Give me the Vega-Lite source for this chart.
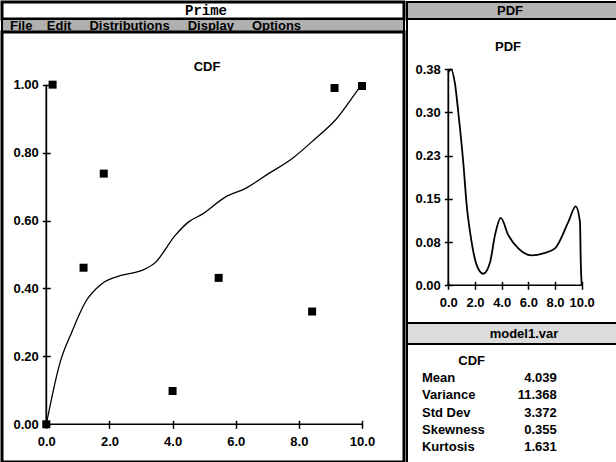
{
  "$schema": "https://vega.github.io/schema/vega-lite/v6.json",
  "padding": 0,
  "background": "white",
  "spacing": 0,
  "bounds": "full",
  "config": {
    "font": "Liberation Sans",
    "view": {"stroke": "black", "strokeWidth": 2, "fill": "white"},
    "axis": {
      "labelFont": "Liberation Sans", "labelFontWeight": "bold", "labelFontSize": 13, "labelColor": "black",
      "tickColor": "black", "tickWidth": 1.5, "tickSize": 8, "grid": false, "domain": false, "title": null,
      "labelFlush": false, "labelOverlap": false, "labelBound": false
    },
    "title": {"font": "Liberation Sans", "fontWeight": "bold", "fontSize": 13, "color": "black"},
    "concat": {"spacing": 0}
  },
  "datasets": {
    "cdf": [
      {"x": 0, "y": 0}, {"x": 0.44, "y": 0.183}, {"x": 0.81, "y": 0.272}, {"x": 1.24, "y": 0.36},
      {"x": 1.76, "y": 0.414}, {"x": 2.4, "y": 0.439}, {"x": 3.03, "y": 0.453}, {"x": 3.45, "y": 0.476},
      {"x": 4.09, "y": 0.557}, {"x": 4.51, "y": 0.596}, {"x": 4.93, "y": 0.618}, {"x": 5.67, "y": 0.669},
      {"x": 6.3, "y": 0.694}, {"x": 7.04, "y": 0.738}, {"x": 7.78, "y": 0.782}, {"x": 8.52, "y": 0.841},
      {"x": 9.15, "y": 0.895}, {"x": 9.9, "y": 0.988}, {"x": 10, "y": 1.0}
    ],
    "pts": [
      {"x": 0, "y": 0}, {"x": 0.2, "y": 1.0}, {"x": 1.18, "y": 0.461}, {"x": 1.82, "y": 0.738},
      {"x": 4.0, "y": 0.098}, {"x": 5.46, "y": 0.431}, {"x": 8.42, "y": 0.332}, {"x": 9.13, "y": 0.99},
      {"x": 10.0, "y": 0.996}
    ],
    "pdf": [
      {"x": 0, "y": 0.37}, {"x": 0.2, "y": 0.375}, {"x": 0.5, "y": 0.35}, {"x": 0.75, "y": 0.3},
      {"x": 1.12, "y": 0.214}, {"x": 1.38, "y": 0.139}, {"x": 1.7, "y": 0.082}, {"x": 2.13, "y": 0.035},
      {"x": 2.62, "y": 0.02}, {"x": 3.13, "y": 0.04}, {"x": 3.5, "y": 0.087}, {"x": 3.93, "y": 0.117},
      {"x": 4.5, "y": 0.087}, {"x": 5.25, "y": 0.064}, {"x": 6.25, "y": 0.052}, {"x": 7.2, "y": 0.056},
      {"x": 8.0, "y": 0.064}, {"x": 9.0, "y": 0.11}, {"x": 9.55, "y": 0.137}, {"x": 9.87, "y": 0.11},
      {"x": 9.93, "y": 0.04}, {"x": 10, "y": 0}
    ],
    "stats": [
      {"stat": "Mean", "value": "4.039"},
      {"stat": "Variance", "value": "11.368"},
      {"stat": "Std Dev", "value": "3.372"},
      {"stat": "Skewness", "value": "0.355"},
      {"stat": "Kurtosis", "value": "1.631"}
    ]
  },
  "hconcat": [
    {
      "spacing": 0,
      "bounds": "flush",
      "vconcat": [
        {
          "width": 402, "height": 17,
          "view": {"fill": "white", "stroke": "black", "strokeWidth": 3},
          "data": {"values": [{"t": "Prime"}]},
          "mark": {"type": "text", "font": "Liberation Mono", "fontWeight": "bold", "fontSize": 14, "color": "black", "dx": 3},
          "encoding": {"text": {"field": "t"}}
        },
        {
          "width": 402, "height": 13,
          "view": {"fill": "#b0b0b0", "stroke": "black", "strokeWidth": 2},
          "data": {"values": [{"t": "File\u00a0\u00a0\u00a0\u00a0Edit\u00a0\u00a0\u00a0\u00a0\u00a0Distributions\u00a0\u00a0\u00a0\u00a0\u00a0Display\u00a0\u00a0\u00a0\u00a0\u00a0Options"}]},
          "mark": {"type": "text", "align": "left", "fontWeight": "bold", "fontSize": 13, "color": "black", "dx": 8},
          "encoding": {
            "x": {"datum": 0, "type": "quantitative", "scale": {"domain": [0, 1]}, "axis": null},
            "text": {"field": "t"}
          }
        },
        {
          "width": 402, "height": 430,
          "view": {"fill": "white", "stroke": "black", "strokeWidth": 3},
          "title": {"text": "CDF", "offset": -42, "dx": 4},
          "layer": [
            {
              "data": {"name": "cdf"},
              "mark": {"type": "line", "interpolate": "monotone", "color": "black", "strokeWidth": 1.3},
              "encoding": {
                "x": {"field": "x", "type": "quantitative",
                      "scale": {"domain": [-1.403, 11.33], "nice": false, "zero": false},
                      "axis": {"values": [0, 2, 4, 6, 8, 10], "format": ".1f", "offset": -41.7, "labelPadding": 7}},
                "y": {"field": "y", "type": "quantitative",
                      "scale": {"domain": [-0.111, 1.155], "nice": false, "zero": false},
                      "axis": {"values": [0, 0.2, 0.4, 0.6, 0.8, 1], "format": ".2f", "offset": -48.3, "labelPadding": 4}}
              }
            },
            {
              "data": {"values": [{}]},
              "mark": {"type": "rule", "color": "black", "strokeWidth": 1.5},
              "encoding": {"x": {"datum": 0}, "x2": {"datum": 10}, "y": {"datum": 0}}
            },
            {
              "data": {"values": [{}]},
              "mark": {"type": "rule", "color": "black", "strokeWidth": 1.8},
              "encoding": {"x": {"datum": 0}, "y": {"datum": 0}, "y2": {"datum": 1}}
            },
            {
              "data": {"name": "pts"},
              "mark": {"type": "point", "shape": "square", "filled": true, "color": "black", "size": 64, "opacity": 1},
              "encoding": {
                "x": {"field": "x", "type": "quantitative"},
                "y": {"field": "y", "type": "quantitative"}
              }
            }
          ]
        }
      ]
    },
    {
      "spacing": 0,
      "bounds": "flush",
      "vconcat": [
        {
          "width": 214, "height": 17,
          "view": {"fill": "#b4b4b4", "stroke": "black", "strokeWidth": 2},
          "data": {"values": [{"t": "PDF"}]},
          "mark": {"type": "text", "fontWeight": "bold", "fontSize": 13, "color": "black", "dx": -4},
          "encoding": {"text": {"field": "t"}}
        },
        {
          "width": 214, "height": 304,
          "view": {"fill": "white", "stroke": "black", "strokeWidth": 2},
          "title": {"text": "PDF", "offset": -35, "dx": -6},
          "layer": [
            {
              "data": {"name": "pdf"},
              "mark": {"type": "line", "interpolate": "monotone", "color": "black", "strokeWidth": 1.8},
              "encoding": {
                "x": {"field": "x", "type": "quantitative",
                      "scale": {"domain": [-3.096, 12.946], "nice": false, "zero": false},
                      "axis": {"values": [0, 2, 4, 6, 8, 10], "format": ".1f", "offset": -41.7, "labelPadding": 7}},
                "y": {"field": "y", "type": "quantitative",
                      "scale": {"domain": [-0.0655, 0.4623], "nice": false, "zero": false},
                      "axis": {"values": [0, 0.075, 0.15, 0.225, 0.3, 0.375], "labelExpr": "format(datum.value + 0.0001, '.2f')", "offset": -45.3, "labelPadding": 4}}
              }
            },
            {
              "data": {"values": [{}]},
              "mark": {"type": "rule", "color": "black", "strokeWidth": 1.5},
              "encoding": {"x": {"datum": 0}, "x2": {"datum": 10}, "y": {"datum": 0}}
            },
            {
              "data": {"values": [{}]},
              "mark": {"type": "rule", "color": "black", "strokeWidth": 1.8},
              "encoding": {"x": {"datum": 0}, "y": {"datum": 0}, "y2": {"datum": 0.375}}
            }
          ]
        },
        {
          "width": 214, "height": 21,
          "view": {"fill": "#dcdcdc", "stroke": "black", "strokeWidth": 2},
          "data": {"values": [{"t": "model1.var"}]},
          "mark": {"type": "text", "fontWeight": "bold", "fontSize": 13, "color": "black", "dx": 10},
          "encoding": {"text": {"field": "t"}}
        },
        {
          "width": 214, "height": 120,
          "view": {"fill": "white", "stroke": "black", "strokeWidth": 2},
          "data": {"name": "stats"},
          "encoding": {
            "y": {"field": "stat", "type": "nominal", "sort": null,
                  "scale": {"type": "point", "domain": ["CDF", "Mean", "Variance", "Std Dev", "Skewness", "Kurtosis"], "padding": 1.5},
                  "axis": null}
          },
          "layer": [
            {
              "data": {"values": [{"stat": "CDF"}]},
              "mark": {"type": "text", "align": "center", "fontWeight": "bold", "fontSize": 13, "color": "black"},
              "encoding": {
                "x": {"datum": 30.2, "type": "quantitative", "scale": {"domain": [0, 100]}, "axis": null},
                "text": {"field": "stat"}
              }
            },
            {
              "mark": {"type": "text", "align": "left", "fontWeight": "bold", "fontSize": 13, "color": "black"},
              "encoding": {
                "x": {"datum": 7, "type": "quantitative", "axis": null},
                "text": {"field": "stat"}
              }
            },
            {
              "mark": {"type": "text", "align": "right", "fontWeight": "bold", "fontSize": 13, "color": "black"},
              "encoding": {
                "x": {"datum": 70, "type": "quantitative", "axis": null},
                "text": {"field": "value"}
              }
            }
          ]
        }
      ]
    }
  ]
}
